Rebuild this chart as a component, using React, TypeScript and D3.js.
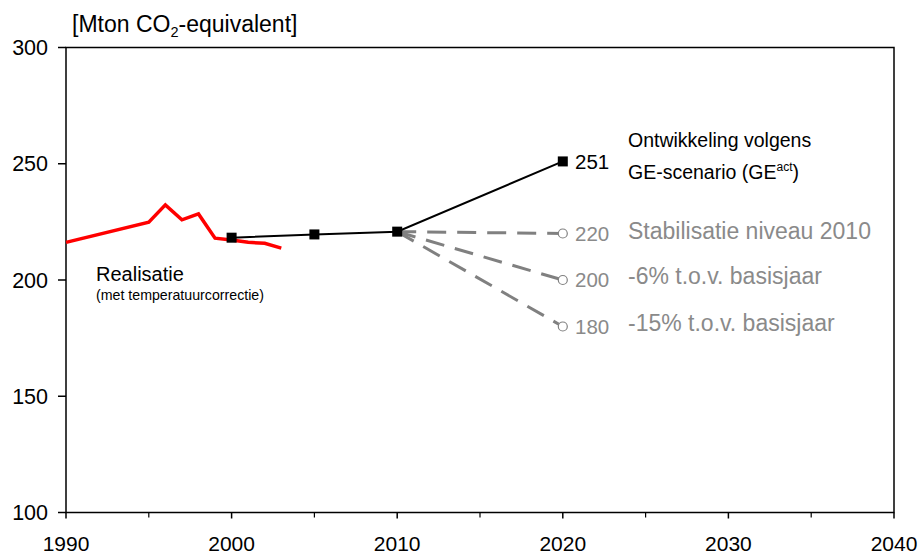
import React from "react";
import * as d3 from "d3";

const realYears = [1990, 1995, 1996, 1997, 1998, 1999, 2000, 2001, 2002, 2003];
const realValues = [216.2, 224.9, 232.3, 225.9, 228.4, 218.0, 217.2, 216.2, 215.8, 213.7];

const geYears = [2000, 2005, 2010, 2020];
const geValues = [218.2, 219.6, 220.8, 251];

const scenarioStartYear = 2010;
const scenarioStartValue = 220.8;
const scenarioEndYear = 2020;
const scenarioValues = [220, 200, 180];
const scenarioNames = ["Stabilisatie niveau 2010", "-6% t.o.v. basisjaar", "-15% t.o.v. basisjaar"];

const xTicks = [1990, 2000, 2010, 2020, 2030, 2040];
const xMinorTicks = [1995, 2005, 2015, 2025, 2035];
const yTicks = [100, 150, 200, 250, 300];

const W = 920;
const H = 556;
const left = 66;
const right = 894;
const top = 47.5;
const bottom = 512.5;
const FONT = "Liberation Sans, Arial, sans-serif";
const GRAY = "#8a8a8a";
const DASH = "#808080";

export default function App() {
  const x = d3.scaleLinear().domain([1990, 2040]).range([left, right]);
  const y = d3.scaleLinear().domain([100, 300]).range([bottom, top]);

  const line = d3
    .line<[number, number]>()
    .x((d) => x(d[0]))
    .y((d) => y(d[1]));

  const realData: [number, number][] = realYears.map((yr, i) => [yr, realValues[i]]);
  const geData: [number, number][] = geYears.map((yr, i) => [yr, geValues[i]]);

  const geLast = geValues[geValues.length - 1];
  const labelX = 628;

  return (
    <svg
      width={W}
      height={H}
      style={{ position: "absolute", left: 0, top: 0, background: "#fff" }}
      fontFamily={FONT}
    >
      <rect x={0} y={0} width={W} height={H} fill="#fff" />
      {/* frame */}
      <rect x={left} y={top} width={right - left} height={bottom - top} fill="none" stroke="#000" strokeWidth={1.5} />

      {/* y ticks */}
      {yTicks.map((t) => (
        <g key={"y" + t}>
          <line x1={left - 8} x2={left} y1={y(t)} y2={y(t)} stroke="#000" strokeWidth={1.5} />
          <text x={48} y={y(t)} dy="0.36em" textAnchor="end" fontSize={21.5} fill="#000">
            {t}
          </text>
        </g>
      ))}

      {/* x ticks */}
      {xTicks.map((t) => (
        <g key={"x" + t}>
          <line x1={x(t)} x2={x(t)} y1={bottom} y2={bottom + 6} stroke="#000" strokeWidth={1.5} />
          <text x={x(t)} y={551} textAnchor="middle" fontSize={21} fill="#000">
            {t}
          </text>
        </g>
      ))}
      {xMinorTicks.map((t) => (
        <line key={"xm" + t} x1={x(t)} x2={x(t)} y1={bottom} y2={bottom + 5} stroke="#000" strokeWidth={1.2} />
      ))}

      {/* axis title */}
      <text x={72} y={32} fontSize={23} fill="#000">
        [Mton CO
        <tspan fontSize={14.5} dy={5}>2</tspan>
        <tspan dy={-5}>-equivalent]</tspan>
      </text>

      {/* scenario dashed lines */}
      {scenarioValues.map((v, i) => (
        <line
          key={"s" + i}
          x1={x(scenarioStartYear)}
          y1={y(scenarioStartValue)}
          x2={x(scenarioEndYear)}
          y2={y(v)}
          stroke={DASH}
          strokeWidth={3}
          strokeDasharray="19,11"
        />
      ))}

      {/* realisation */}
      <path d={line(realData) || ""} fill="none" stroke="#ff0000" strokeWidth={3.5} strokeLinejoin="miter" />

      {/* GE line */}
      <path d={line(geData) || ""} fill="none" stroke="#000" strokeWidth={2} />
      {geData.map((d, i) => (
        <rect key={"m" + i} x={x(d[0]) - 5} y={y(d[1]) - 5} width={10} height={10} fill="#000" />
      ))}

      {/* scenario end markers */}
      {scenarioValues.map((v, i) => (
        <circle key={"c" + i} cx={x(scenarioEndYear)} cy={y(v)} r={4.5} fill="#fff" stroke={DASH} strokeWidth={1.2} />
      ))}

      {/* value labels */}
      <text x={575} y={y(geLast)} dy="0.36em" fontSize={20.5} fill="#000">
        {Math.round(geLast)}
      </text>
      {scenarioValues.map((v, i) => (
        <text key={"v" + i} x={575} y={y(v)} dy="0.36em" fontSize={20.5} fill={GRAY}>
          {v}
        </text>
      ))}

      {/* series labels */}
      <text x={labelX} y={147} fontSize={19.5} fill="#000">
        Ontwikkeling volgens
      </text>
      <text x={labelX} y={179} fontSize={19.5} fill="#000">
        GE-scenario (GE
        <tspan fontSize={12} dy={-8}>act</tspan>
        <tspan dy={8}>)</tspan>
      </text>
      {scenarioNames.map((n, i) => (
        <text key={"n" + i} x={labelX} y={[239, 284, 331][i]} fontSize={23} fill={GRAY}>
          {n}
        </text>
      ))}

      <text x={96} y={281} fontSize={20} fill="#000">
        Realisatie
      </text>
      <text x={96} y={300} fontSize={14.2} fill="#000">
        (met temperatuurcorrectie)
      </text>
    </svg>
  );
}
